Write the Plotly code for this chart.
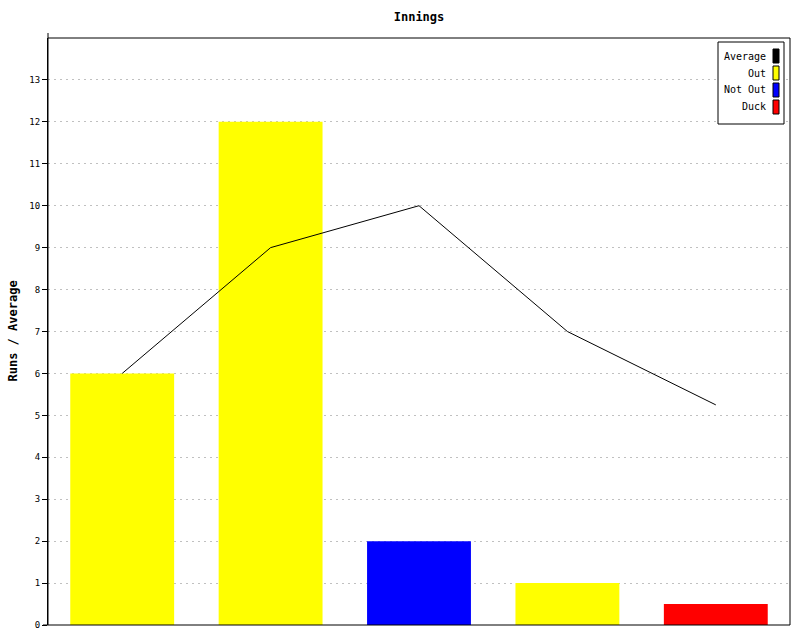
import plotly.graph_objects as go

innings = [1, 2, 3, 4, 5]
runs = [6, 12, 2, 1, 0.5]
kinds = ["Out", "Out", "Not Out", "Out", "Duck"]
average = [6, 9, 10, 7, 5.25]
y_ticks = list(range(0, 14))

legend_names = ["Average", "Out", "Not Out", "Duck"]
legend_colors = {"Average": "#000000", "Out": "#FFFF00", "Not Out": "#0000FF", "Duck": "#FF0000"}

FONT = "DejaVu Sans Mono"

fig = go.Figure()
for kind in ["Out", "Not Out", "Duck"]:
    xs = [i for i, k in zip(innings, kinds) if k == kind]
    ys = [r for r, k in zip(runs, kinds) if k == kind]
    fig.add_trace(go.Bar(x=xs, y=ys, width=0.7, marker=dict(color=legend_colors[kind], line=dict(width=0)),
                         name=kind, showlegend=False))
fig.add_trace(go.Scatter(x=innings, y=average, mode="lines", line=dict(color="black", width=1),
                         name="Average", showlegend=False))

shapes = [
    dict(type="rect", xref="paper", yref="paper", x0=0, x1=1, y0=0, y1=1,
         line=dict(color="black", width=1), layer="above"),
    dict(type="line", xref="paper", yref="paper", x0=0, x1=0, y0=1, y1=1 + 5 / 587,
         line=dict(color="black", width=1)),
    dict(type="line", xref="paper", yref="paper", x0=-5 / 742, x1=0, y0=0, y1=0,
         line=dict(color="black", width=1)),
]
annotations = [
    dict(xref="paper", yref="paper", x=(12 - 48) / 742, y=0.5, xanchor="center", yanchor="middle",
         text="<b>Runs / Average</b>", textangle=-90, showarrow=False,
         font=dict(family=FONT, size=12, color="black")),
]

lx0, lx1 = (718 - 48) / 742, (784 - 48) / 742
ly_top, ly_bot = 1 - (42 - 38) / 587, 1 - (124 - 38) / 587
shapes.append(dict(type="rect", xref="paper", yref="paper", x0=lx0, x1=lx1, y0=ly_bot, y1=ly_top,
                   line=dict(color="black", width=1), fillcolor="white", layer="above"))
for i, name in enumerate(legend_names):
    cy = 56 + 17 * i
    yc = 1 - (cy - 38) / 587
    h = 7 / 587
    shapes.append(dict(type="rect", xref="paper", yref="paper",
                       x0=(773 - 48) / 742, x1=(779 - 48) / 742, y0=yc - h, y1=yc + h,
                       line=dict(color="black", width=1), fillcolor=legend_colors[name], layer="above"))
    annotations.append(dict(xref="paper", yref="paper", x=(768 - 48) / 742, y=yc, xanchor="right",
                            yanchor="middle", text=name, showarrow=False,
                            font=dict(family=FONT, size=10, color="black")))

fig.update_layout(
    width=800, height=640,
    margin=dict(l=48, r=10, t=38, b=15),
    paper_bgcolor="white", plot_bgcolor="white",
    barmode="overlay",
    title=dict(text="<b>Innings</b>", xref="paper", x=0.5, xanchor="center", y=1 - 17 / 640, yanchor="middle",
               font=dict(family=FONT, size=12, color="black")),
    xaxis=dict(range=[0.5, 5.5], showticklabels=False, showgrid=False, zeroline=False,
               ticks="", showline=False, automargin=False),
    yaxis=dict(range=[0, 14], tickvals=y_ticks, ticks="outside", ticklen=5, tickcolor="black",
               showline=True, linecolor="black", linewidth=1, zeroline=False, automargin=False,
               showgrid=True, gridcolor="#C0C0C0", griddash="2px,4px", gridwidth=1,
               tickfont=dict(family=FONT, size=9, color="black")),
    shapes=shapes, annotations=annotations,
    showlegend=False,
)

fig.write_html("out.html", config={"displayModeBar": False},
               post_script="document.body.style.margin='0';document.body.style.padding='0';")
